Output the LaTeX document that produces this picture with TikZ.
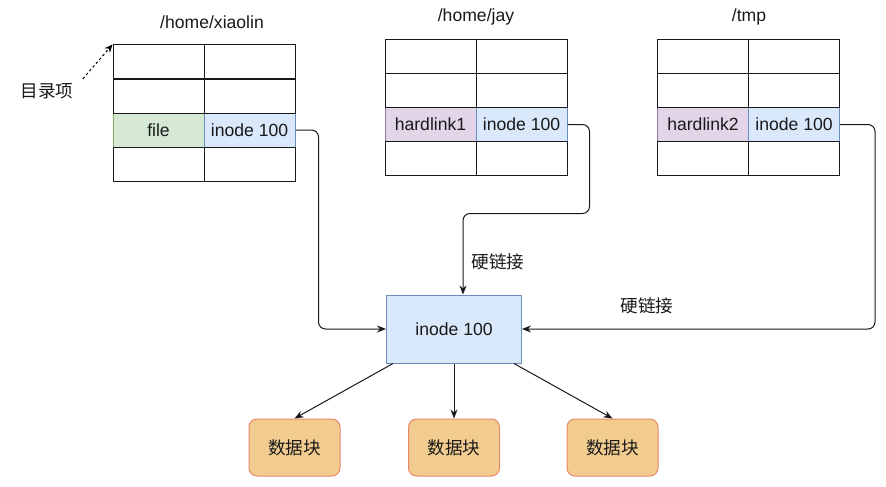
\documentclass[tikz,border=0pt]{standalone}
\usepackage{fontspec}
\setmainfont{Liberation Sans}
\newfontfamily\cjk{Noto Sans CJK SC}
\usepackage{tikz}
\usetikzlibrary{arrows.meta, positioning, calc}

\definecolor{greenfill}{HTML}{D5E8D4}
\definecolor{greenline}{HTML}{82B366}
\definecolor{bluefill}{HTML}{DAE8FC}
\definecolor{blueline}{HTML}{6C8EBF}
\definecolor{purplefill}{HTML}{E1D5E7}
\definecolor{purpleline}{HTML}{9673A6}
\definecolor{blockfill}{HTML}{F2CC8F}
\definecolor{blockline}{HTML}{E8886B}

\begin{document}
\begin{tikzpicture}[
    x=1pt, y=-1pt,
    every node/.style={font=\fontsize{17.6}{20}\selectfont, text=black!90},
    cell/.style={draw=black!90, line width=1pt, minimum width=91pt, minimum height=34pt, inner sep=0pt},
    cell_name/.style={cell, fill=greenfill, draw=greenline},
    cell_link/.style={cell, fill=purplefill, draw=purpleline},
    cell_inode/.style={cell, fill=bluefill, draw=blueline},
    inode/.style={draw=blueline, fill=bluefill, line width=1pt, minimum width=135pt, minimum height=68pt},
    block/.style={draw=blockline, fill=blockfill, line width=1pt, rounded corners=8pt, minimum width=91pt, minimum height=57pt},
    arrow/.style={-{Stealth[length=9pt, width=7pt]}, line width=1pt, black!90},
    link/.style={arrow, rounded corners=7pt},
    pointer/.style={-{Stealth[length=8pt, width=7pt]}, line width=1pt, dash pattern=on 2.5pt off 2.5pt},
]
\useasboundingbox (0,0) rectangle (886,487);

% /home/xiaolin
\node (xtitle) at (212,22) {/home/xiaolin};
\node[cell_name] (xn) at (158.5,130) {file};
\node[cell_inode] (xi) at (249.5,130) {inode 100};
\node[cell] (xa) at (158.5,62) {};
\node[cell] (xb) at (249.5,62) {};
\node[cell] (xc) at (158.5,96) {};
\node[cell] (xd) at (249.5,96) {};
\node[cell] (xe) at (158.5,164) {};
\node[cell] (xf) at (249.5,164) {};
\node (dirent) at (47,91) {\cjk 目录项};

% /home/jay
\node (jtitle) at (476,17) {/home/jay};
\node[cell_link] (jn) at (430.5,124.5) {hardlink1};
\node[cell_inode] (ji) at (521.5,124.5) {inode 100};
\node[cell] (ja) at (430.5,56.5) {};
\node[cell] (jb) at (521.5,56.5) {};
\node[cell] (jc) at (430.5,90.5) {};
\node[cell] (jd) at (521.5,90.5) {};
\node[cell] (je) at (430.5,158.5) {};
\node[cell] (jf) at (521.5,158.5) {};

% /tmp
\node (ttitle) at (749,17) {/tmp};
\node[cell_link] (tn) at (703,124.5) {hardlink2};
\node[cell_inode] (ti) at (794,124.5) {inode 100};
\node[cell] (ta) at (703,56.5) {};
\node[cell] (tb) at (794,56.5) {};
\node[cell] (tc) at (703,90.5) {};
\node[cell] (td) at (794,90.5) {};
\node[cell] (te) at (703,158.5) {};
\node[cell] (tf) at (794,158.5) {};

% inode and data blocks
\node[inode] (inode) at (454,329) {inode 100};
\node[block] (d1) at (294.5,447.5) {\cjk 数据块};
\node[block] (d2) at (454,447.5) {\cjk 数据块};
\node[block] (d3) at (612.5,447.5) {\cjk 数据块};

\node (lbl1) at (498,262) {\cjk 硬链接};
\node (lbl2) at (647,306) {\cjk 硬链接};

% links to inode
\draw[pointer] ([shift={(6,-1)}]dirent.north east) -- (xa.north west);
\draw[link] (xi.east) -- ++(23,0) |- (inode.west);
\draw[link] (ji.east) -- ++(22,0) -- ++(0,89) -| ([xshift=9pt]inode.north);
\draw[link] (ti.east) -- ++(35,0) |- (inode.east);

% inode to blocks
\draw[arrow] ([xshift=7pt]inode.south west) -- (d1.north);
\draw[arrow] (inode.south) -- (d2.north);
\draw[arrow] ([xshift=-8pt]inode.south east) -- (d3.north);

\end{tikzpicture}
\end{document}
